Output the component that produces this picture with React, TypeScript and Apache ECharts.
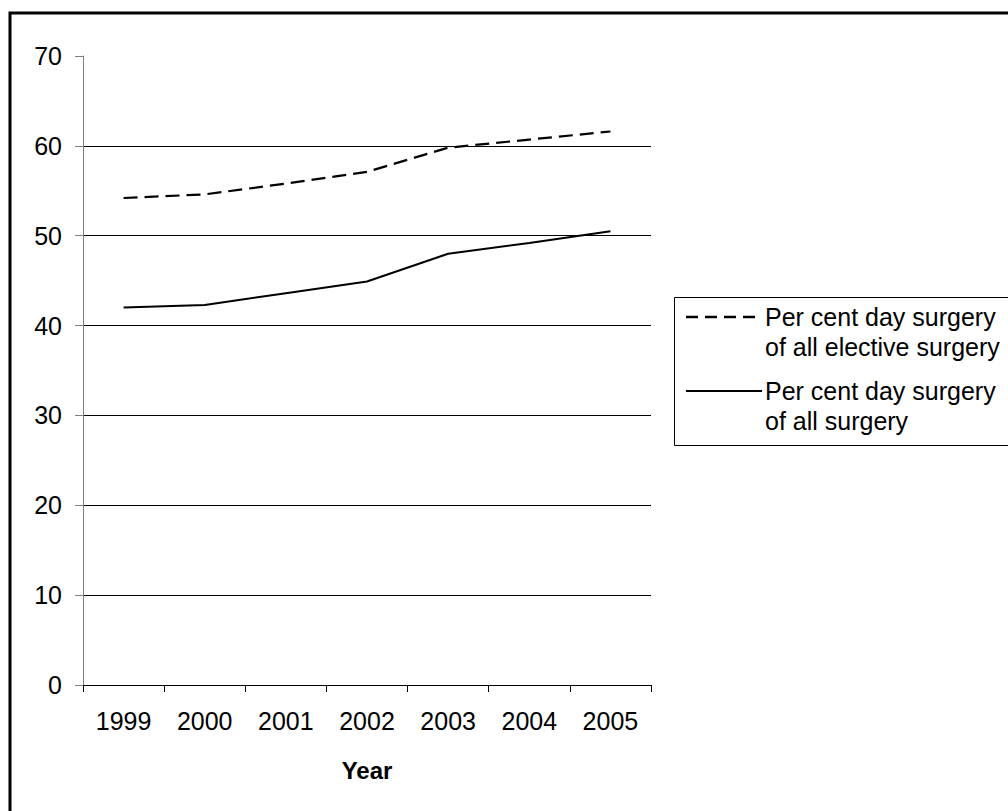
import React, { useEffect, useRef } from "react";
import * as echarts from "echarts";

const years = ["1999", "2000", "2001", "2002", "2003", "2004", "2005"];
const electiveSurgery = [54.2, 54.6, 55.8, 57.1, 59.8, 60.7, 61.6];
const allSurgery = [42.0, 42.3, 43.6, 44.9, 48.0, 49.2, 50.5];
const yTicks = { min: 0, max: 70, interval: 10 };
const legendLabels = [
  "Per cent day surgery\nof all elective surgery",
  "Per cent day surgery\nof all surgery",
];
const FONT = "'Liberation Sans', Arial, sans-serif";

export default function App() {
  const ref = useRef<HTMLDivElement>(null);
  useEffect(() => {
    if (!ref.current) return;
    const chart = echarts.init(ref.current, undefined, { renderer: "svg" });
    chart.setOption({
      animation: false,
      backgroundColor: "#ffffff",
      textStyle: { fontFamily: FONT },
      grid: { left: 83, right: 357, top: 56, bottom: 126, containLabel: false },
      xAxis: {
        type: "category",
        data: years,
        boundaryGap: true,
        name: "Year",
        nameLocation: "middle",
        nameGap: 73,
        nameTextStyle: { fontFamily: FONT, fontSize: 24, fontWeight: "bold", color: "#000" },
        axisLine: { show: true, lineStyle: { color: "#000", width: 1 } },
        axisTick: { show: true, length: 7, alignWithLabel: false, lineStyle: { color: "#000" } },
        axisLabel: { fontFamily: FONT, fontSize: 25, color: "#000", margin: 23, interval: 0 },
        splitLine: { show: false },
      },
      yAxis: {
        type: "value",
        min: yTicks.min,
        max: yTicks.max,
        interval: yTicks.interval,
        axisLine: { show: true, lineStyle: { color: "#808080", width: 1 } },
        axisTick: { show: true, length: 8, lineStyle: { color: "#808080" } },
        axisLabel: { fontFamily: FONT, fontSize: 25, color: "#000", margin: 21 },
        splitLine: {
          show: true,
          showMinLine: false,
          showMaxLine: false,
          lineStyle: { color: "#000", width: 1 },
        },
      },
      series: [
        {
          name: legendLabels[0],
          type: "line",
          data: electiveSurgery,
          symbol: "none",
          lineStyle: { color: "#000", width: 2.2, type: [14, 7] },
        },
        {
          name: legendLabels[1],
          type: "line",
          data: allSurgery,
          symbol: "none",
          lineStyle: { color: "#000", width: 2, type: "solid" },
        },
      ],
      graphic: [
        {
          type: "rect",
          shape: { x: 10, y: 13, width: 1200, height: 1000 },
          style: { fill: "none", stroke: "#000", lineWidth: 3 },
          silent: true,
        },
        {
          type: "rect",
          shape: { x: 674.5, y: 297.5, width: 500, height: 148 },
          style: { fill: "#fff", stroke: "#000", lineWidth: 1 },
          silent: true,
        },
        {
          type: "line",
          shape: { x1: 686, y1: 317, x2: 762, y2: 317 },
          style: { stroke: "#000", lineWidth: 2.5, lineDash: [12, 7] },
          silent: true,
        },
        {
          type: "text",
          x: 765,
          y: 302,
          style: {
            text: legendLabels[0],
            fontFamily: FONT,
            fontSize: 25,
            lineHeight: 30,
            fill: "#000",
            align: "left",
            verticalAlign: "top",
          },
          silent: true,
        },
        {
          type: "line",
          shape: { x1: 686, y1: 391, x2: 762, y2: 391 },
          style: { stroke: "#000", lineWidth: 2 },
          silent: true,
        },
        {
          type: "text",
          x: 765,
          y: 376,
          style: {
            text: legendLabels[1],
            fontFamily: FONT,
            fontSize: 25,
            lineHeight: 30,
            fill: "#000",
            align: "left",
            verticalAlign: "top",
          },
          silent: true,
        },
      ],
    });
    return () => chart.dispose();
  }, []);
  return (
    <div
      ref={ref}
      style={{ position: "fixed", left: 0, top: 0, width: 1008, height: 811, background: "#fff" }}
    />
  );
}
